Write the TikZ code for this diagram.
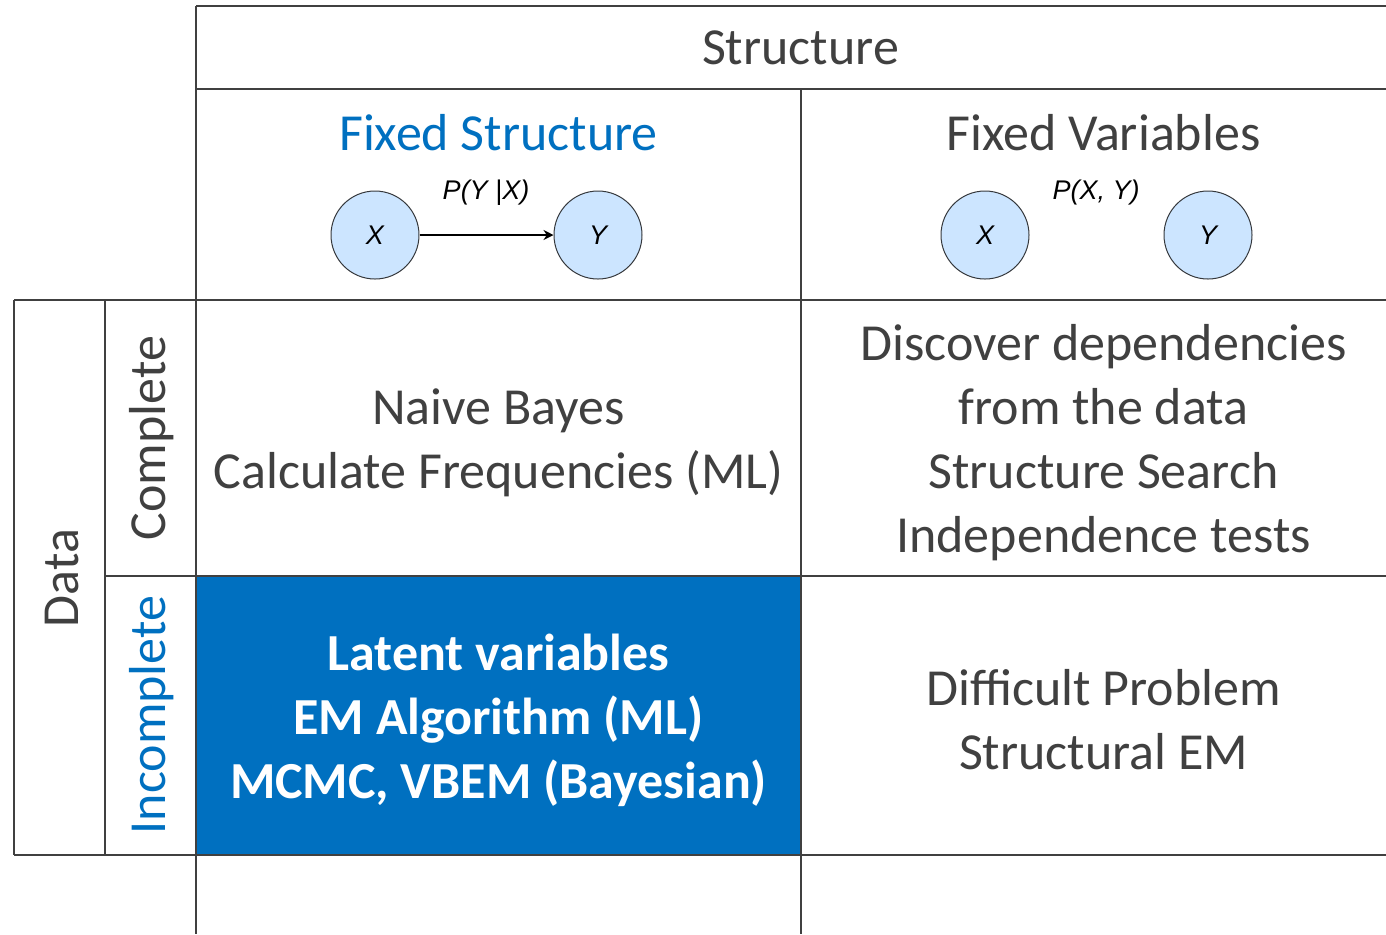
\documentclass[tikz,border=0pt]{standalone}
\usepackage{fontspec}
\setmainfont{Carlito}
\newfontfamily\arialfont{Liberation Sans}
\usetikzlibrary{arrows.meta}
\definecolor{gridgray}{HTML}{404040}
\definecolor{txtgray}{HTML}{404040}
\definecolor{hiblue}{HTML}{0070C0}
\definecolor{nodefill}{HTML}{CCE5FF}
\definecolor{nodeline}{HTML}{36393D}
\begin{document}
\begin{tikzpicture}[x=0.5pt,y=-0.5pt,
  grid/.style={draw=gridgray,line width=1.1pt},
  celltext/.style={text=txtgray,font=\fontsize{26}{32}\selectfont,align=center,inner sep=0pt},
  headtext/.style={celltext,text=hiblue},
  hitext/.style={celltext,text=white,font=\bfseries\fontsize{26}{32}\selectfont},
  var/.style={circle,draw=nodeline,fill=nodefill,line width=0.5pt,minimum size=44pt,inner sep=0pt,
    font=\arialfont\itshape\fontsize{13.5}{16}\selectfont},
  prob/.style={font=\arialfont\itshape\fontsize{13.5}{16}\selectfont,text=black,inner sep=0pt},
  edge/.style={draw=black,line width=0.8pt,-{Stealth[length=5pt,width=5pt]}}
]
\useasboundingbox (0,0) rectangle (1386,934);

% highlighted cell: fixed structure, incomplete data
\fill[hiblue] (196,576) rectangle (801,855);

% table rules
\path[grid] (196,6) -- (1386,6);
\path[grid] (196,89) -- (1386,89);
\path[grid] (14,300) -- (1386,300);
\path[grid] (105,576) -- (1386,576);
\path[grid] (14,855) -- (1386,855);
\path[grid] (196,6) -- (196,934);
\path[grid] (801,89) -- (801,934);
\path[grid] (14,300) -- (14,855);
\path[grid] (105,300) -- (105,855);

% headers
\node[celltext] (structure) at (800.5,48) {Structure};
\node[headtext] (fixedstruct) at (498.5,133) {Fixed Structure};
\node[celltext] (fixedvars) at (1103.5,133) {Fixed Variables};

% small graphs
\node[var] (x1) at (375,235) {X};
\node[var] (y1) at (598,235) {Y};
\draw[edge] (x1) -- (y1);
\node[prob] (p1) at (486,193) {P(Y |X)};

\node[var] (x2) at (985,235) {X};
\node[var] (y2) at (1208,235) {Y};
\node[prob] (p2) at (1096,193) {P(X, Y)};

% row labels
\node[celltext,rotate=90] (data) at (62,578) {Data};
\node[celltext,rotate=90] (complete) at (152,438) {Complete};
\node[headtext,rotate=90] (incomplete) at (152,715) {Incomplete};

% cells
\node[celltext] (c11) at (498.5,443) {Naive Bayes\\Calculate Frequencies (ML)};
\node[celltext] (c12) at (1103.5,443) {Discover dependencies\\from the data\\Structure Search\\Independence tests};
\node[hitext] (c21) at (498.5,720) {Latent variables\\EM Algorithm (ML)\\MCMC, VBEM (Bayesian)};
\node[celltext] (c22) at (1103.5,720) {Difficult Problem\\Structural EM};
\end{tikzpicture}
\end{document}
